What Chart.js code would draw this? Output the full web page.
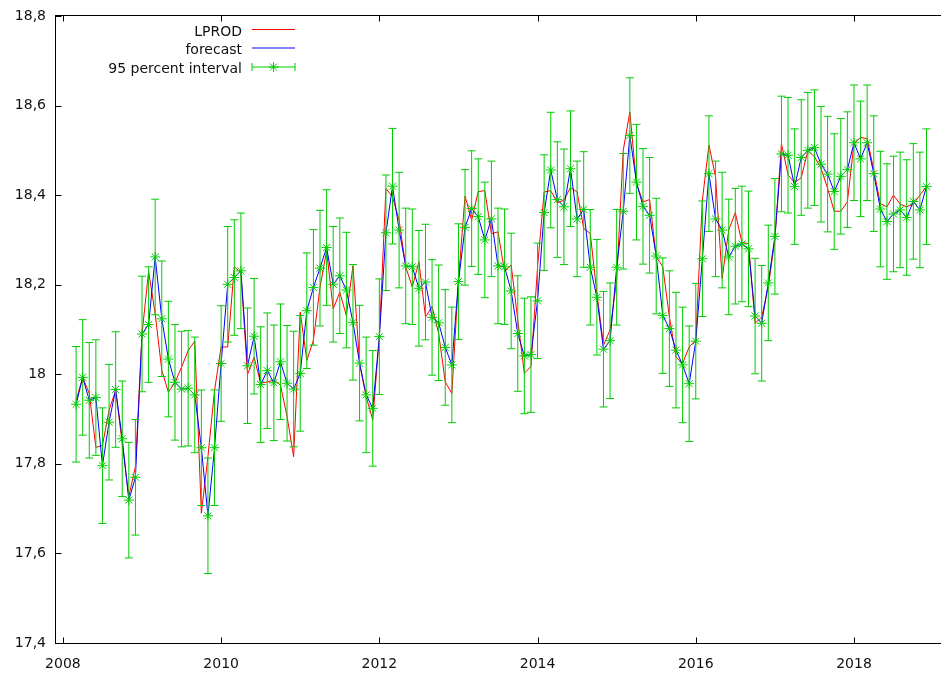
<!DOCTYPE html>
<html>
<head>
<meta charset="utf-8">
<style>
  html, body { margin: 0; padding: 0; background: #fff; }
  #wrap { width: 941px; height: 675px; }
</style>
</head>
<body>
<div id="wrap"><canvas id="chart" width="941" height="675"></canvas></div>
<script src="https://cdn.jsdelivr.net/npm/chart.js"></script>
<script>
// monthly sample 2008:03 - 2018:12
const firstYear = 2008;
const firstMonth = 3;

const lprod = [
  17.942, 17.993, 17.957, 17.837, 17.841, 17.920, 17.964, 17.846, 17.727, 17.794,
  18.090, 18.230, 18.135, 18.009, 17.960, 17.982, 18.016, 18.053, 18.074, 17.690,
  17.816, 17.964, 18.061, 18.061, 18.240, 18.227, 17.999, 18.038, 17.980, 17.983,
  17.987, 17.976, 17.906, 17.816, 18.139, 18.031, 18.076, 18.194, 18.276, 18.146,
  18.183, 18.131, 18.242, 18.024, 17.950, 17.898, 18.083, 18.415, 18.396, 18.344,
  18.240, 18.195, 18.251, 18.128, 18.151, 18.091, 17.983, 17.957, 18.210, 18.398,
  18.344, 18.408, 18.410, 18.314, 18.318, 18.229, 18.244, 18.121, 18.002, 18.018,
  18.240, 18.407, 18.410, 18.383, 18.389, 18.417, 18.407, 18.326, 18.314, 18.181,
  18.065, 18.099, 18.210, 18.500, 18.586, 18.426, 18.385, 18.390, 18.262, 18.240,
  18.128, 18.039, 18.024, 18.061, 18.076, 18.389, 18.512, 18.441, 18.214, 18.322,
  18.361, 18.294, 18.292, 18.114, 18.128, 18.195, 18.300, 18.515, 18.445, 18.428,
  18.439, 18.499, 18.486, 18.460, 18.415, 18.364, 18.364, 18.385, 18.515, 18.529,
  18.526, 18.456, 18.381, 18.374, 18.400, 18.380, 18.374, 18.380, 18.400, 18.419
];

const forecast = [
  17.933, 17.993, 17.942, 17.948, 17.796, 17.893, 17.966, 17.856, 17.719, 17.770,
  18.090, 18.111, 18.262, 18.124, 18.034, 17.982, 17.967, 17.969, 17.954, 17.836,
  17.684, 17.836, 18.024, 18.201, 18.216, 18.231, 18.019, 18.085, 17.977, 18.008,
  17.981, 18.028, 17.980, 17.967, 18.002, 18.142, 18.194, 18.237, 18.283, 18.201,
  18.220, 18.188, 18.116, 18.025, 17.954, 17.924, 18.084, 18.316, 18.420, 18.322,
  18.242, 18.240, 18.192, 18.206, 18.127, 18.115, 18.060, 18.021, 18.207, 18.328,
  18.370, 18.352, 18.300, 18.347, 18.242, 18.240, 18.186, 18.091, 18.041, 18.044,
  18.164, 18.361, 18.456, 18.390, 18.374, 18.459, 18.347, 18.368, 18.239, 18.172,
  18.056, 18.075, 18.239, 18.364, 18.533, 18.429, 18.375, 18.355, 18.264, 18.131,
  18.102, 18.054, 18.021, 17.979, 18.074, 18.258, 18.448, 18.347, 18.322, 18.262,
  18.286, 18.291, 18.280, 18.130, 18.114, 18.204, 18.308, 18.492, 18.489, 18.419,
  18.484, 18.500, 18.506, 18.469, 18.447, 18.408, 18.442, 18.457, 18.517, 18.481,
  18.517, 18.448, 18.369, 18.341, 18.358, 18.367, 18.350, 18.386, 18.367, 18.419
];

// half width of the 95 percent interval (same for every month)
const halfWidth = 0.129;

const xTicks = [2008, 2010, 2012, 2014, 2016, 2018];
const yTicks = [17.4, 17.6, 17.8, 18.0, 18.2, 18.4, 18.6, 18.8];
const yTickLabels = ['17,4', '17,6', '17,8', '18', '18,2', '18,4', '18,6', '18,8'];

const seriesNames = ['LPROD', 'forecast', '95 percent interval'];

const RED = '#ff0000';
const BLUE = '#0000ff';
const GREEN = '#00cc00';

const dates = forecast.map((_, i) => firstYear + (firstMonth - 1 + i) / 12);
const lower = forecast.map(v => v - halfWidth);
const upper = forecast.map(v => v + halfWidth);

Chart.defaults.font.family = "'DejaVu Sans', sans-serif";
Chart.defaults.font.size = 14;
Chart.defaults.color = '#111';

const errorBars = {
  id: 'errorBars',
  afterDatasetsDraw(chart) {
    const { ctx } = chart;
    const x = chart.scales.x, y = chart.scales.y;
    ctx.save();
    ctx.strokeStyle = GREEN;
    ctx.lineWidth = 1;
    ctx.beginPath();
    dates.forEach((d, i) => {
      const px = x.getPixelForValue(d);
      const lo = y.getPixelForValue(lower[i]);
      const hi = y.getPixelForValue(upper[i]);
      ctx.moveTo(px, lo); ctx.lineTo(px, hi);
      ctx.moveTo(px - 4, lo); ctx.lineTo(px + 4, lo);
      ctx.moveTo(px - 4, hi); ctx.lineTo(px + 4, hi);
    });
    ctx.stroke();
    ctx.restore();
  }
};

// gretl style frame (right side falls off the canvas) with inward ticks, and the key
const frameAndKey = {
  id: 'frameAndKey',
  afterDraw(chart) {
    const { ctx, chartArea: a } = chart;
    const x = chart.scales.x, y = chart.scales.y;
    const L = Math.round(a.left) + 0.5, R = Math.round(a.right) + 0.5;
    const T = Math.round(a.top) - 0.5, B = Math.round(a.bottom) + 0.5;
    ctx.save();
    ctx.strokeStyle = '#000';
    ctx.lineWidth = 1;
    ctx.strokeRect(L, T, R - L, B - T);
    ctx.beginPath();
    xTicks.forEach(v => {
      const px = Math.round(x.getPixelForValue(v)) + 0.5;
      ctx.moveTo(px, B); ctx.lineTo(px, B - 6);
      ctx.moveTo(px, T); ctx.lineTo(px, T + 6);
    });
    yTicks.forEach(v => {
      const py = Math.round(y.getPixelForValue(v)) + 0.5;
      ctx.moveTo(L, py); ctx.lineTo(L + 6, py);
    });
    ctx.stroke();

    // key
    const textRight = 242, x0 = 252, x1 = 295;
    const rows = [31, 49.5, 68];
    ctx.font = "14px 'DejaVu Sans', sans-serif";
    ctx.fillStyle = '#111';
    ctx.textAlign = 'right';
    ctx.textBaseline = 'middle';
    seriesNames.forEach((name, i) => ctx.fillText(name, textRight, rows[i] + 1));
    ctx.lineWidth = 1;
    ctx.strokeStyle = RED;
    ctx.beginPath(); ctx.moveTo(x0, rows[0] - 1.5); ctx.lineTo(x1, rows[0] - 1.5); ctx.stroke();
    ctx.strokeStyle = BLUE;
    ctx.beginPath(); ctx.moveTo(x0, rows[1] - 1.5); ctx.lineTo(x1, rows[1] - 1.5); ctx.stroke();
    ctx.strokeStyle = GREEN;
    const ry = rows[2] - 1;
    ctx.beginPath();
    ctx.moveTo(x0, ry); ctx.lineTo(x1, ry);
    ctx.moveTo(x0, ry - 4); ctx.lineTo(x0, ry + 4);
    ctx.moveTo(x1, ry - 4); ctx.lineTo(x1, ry + 4);
    const cx = (x0 + x1) / 2, r = 5;
    ctx.moveTo(cx - r, ry); ctx.lineTo(cx + r, ry);
    ctx.moveTo(cx, ry - r); ctx.lineTo(cx, ry + r);
    const d = r * Math.SQRT1_2;
    ctx.moveTo(cx - d, ry - d); ctx.lineTo(cx + d, ry + d);
    ctx.moveTo(cx - d, ry + d); ctx.lineTo(cx + d, ry - d);
    ctx.stroke();
    ctx.restore();
  }
};

new Chart(document.getElementById('chart'), {
  type: 'line',
  data: {
    datasets: [
      {
        label: seriesNames[0],
        data: dates.map((d, i) => ({ x: d, y: lprod[i] })),
        borderColor: RED,
        borderWidth: 1,
        pointRadius: 0,
        tension: 0,
        order: 3
      },
      {
        label: seriesNames[1],
        data: dates.map((d, i) => ({ x: d, y: forecast[i] })),
        borderColor: BLUE,
        borderWidth: 1,
        pointRadius: 0,
        tension: 0,
        order: 2
      },
      {
        label: seriesNames[2],
        data: dates.map((d, i) => ({ x: d, y: forecast[i] })),
        showLine: false,
        pointStyle: 'star',
        pointRadius: 5,
        pointBorderWidth: 1,
        borderColor: GREEN,
        backgroundColor: GREEN,
        order: 1
      }
    ]
  },
  options: {
    responsive: false,
    animation: false,
    layout: { autoPadding: false, padding: { top: 16, right: 0, left: 0, bottom: 0 } },
    plugins: {
      legend: { display: false },
      tooltip: { enabled: false }
    },
    scales: {
      x: {
        type: 'linear',
        min: 2007.9,
        max: 2019.1,
        grid: { display: false, drawTicks: false },
        border: { display: false },
        afterBuildTicks: s => { s.ticks = xTicks.map(v => ({ value: v })); },
        afterFit: s => { s.height = 32; s.paddingLeft = 0; s.paddingRight = 0; },
        ticks: {
          autoSkip: false,
          maxRotation: 0,
          padding: 13,
          callback: v => String(v)
        }
      },
      y: {
        min: 17.4,
        max: 18.8,
        grid: { display: false, drawTicks: false },
        border: { display: false },
        afterBuildTicks: s => { s.ticks = yTicks.map(v => ({ value: v })); },
        afterFit: s => { s.width = 55; s.paddingTop = 0; s.paddingBottom = 0; },
        ticks: {
          padding: 9,
          callback: (v, i) => yTickLabels[i]
        }
      }
    }
  },
  plugins: [errorBars, frameAndKey]
});
</script>
</body>
</html>
